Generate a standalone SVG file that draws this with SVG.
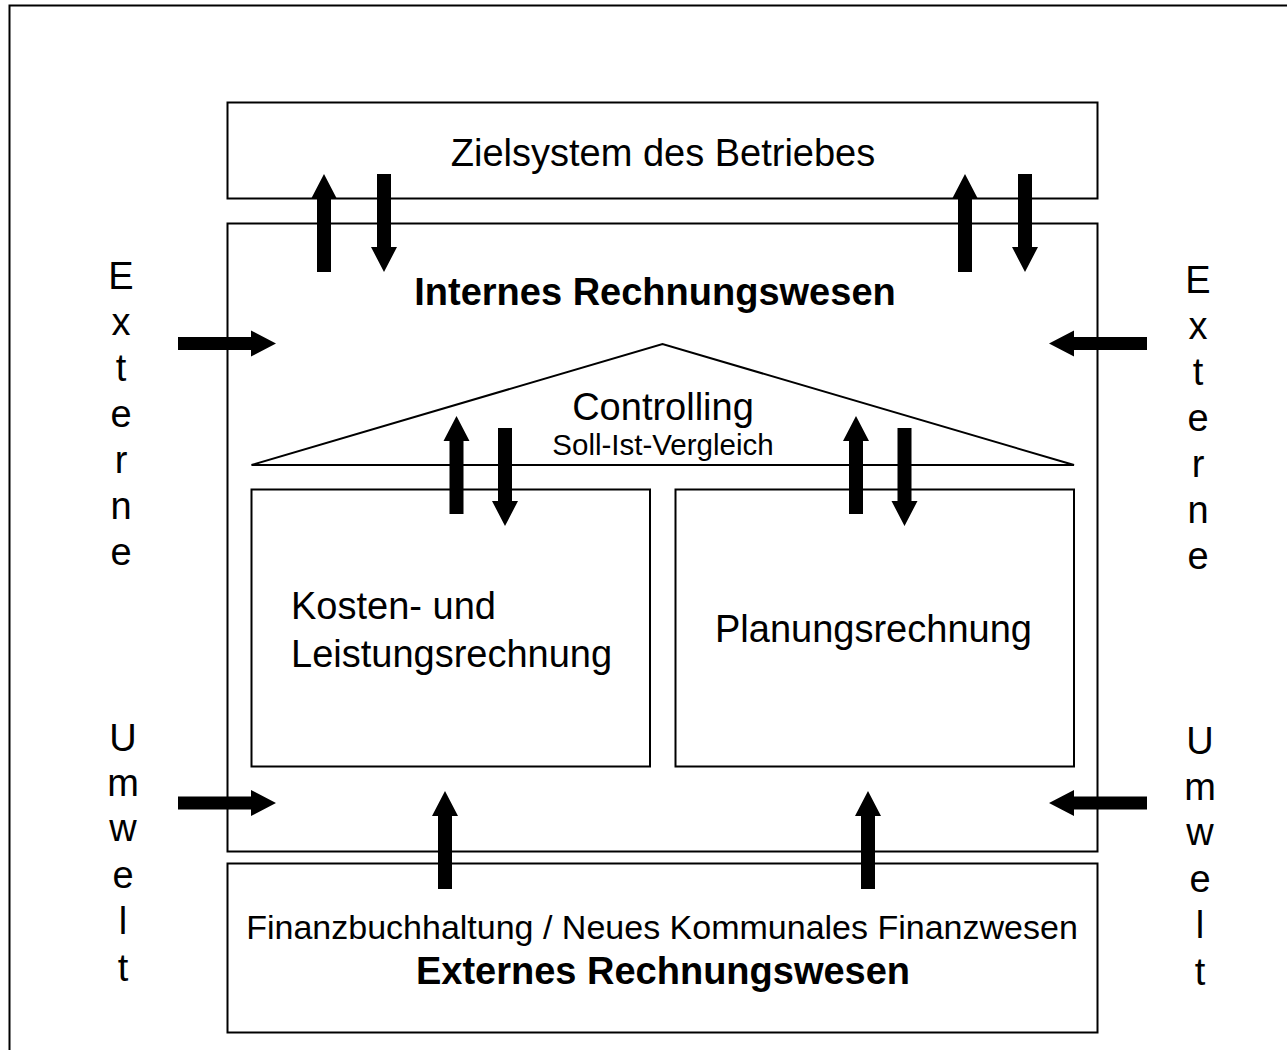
<svg xmlns="http://www.w3.org/2000/svg" width="1287" height="1050" viewBox="0 0 1287 1050">
<style>
.box{fill:none;stroke:#000;stroke-width:2}
.t{font-family:"Liberation Sans",Arial,sans-serif;fill:#000;font-size:38px}
.b{font-weight:bold}
.c{text-anchor:middle}
.arr{fill:#000;stroke:none}
</style>
<defs>
<polygon id="up" points="0,0 13,25 7,25 7,98 -7,98 -7,25 -13,25"/>
<polygon id="down" points="0,0 13,-25 7,-25 7,-98 -7,-98 -7,-25 -13,-25"/>
<polygon id="right" points="0,0 -25,-13 -25,-6.5 -98,-6.5 -98,6.5 -25,6.5 -25,13"/>
<polygon id="left" points="0,0 25,-13 25,-6.5 98,-6.5 98,6.5 25,6.5 25,13"/>
</defs>
<rect x="0" y="0" width="1287" height="1050" fill="#fff"/>
<rect class="box" x="9.5" y="5.5" width="1300" height="1060"/>

<g id="zielsystem">
<rect class="box" x="227.5" y="102.5" width="870" height="96"/>
<text class="t c" x="663" y="166">Zielsystem des Betriebes</text>
</g>

<g id="internes">
<rect class="box" x="227.5" y="223.5" width="870" height="628"/>
<text class="t b c" x="655" y="305">Internes Rechnungswesen</text>
</g>

<g id="controlling">
<polygon class="box" points="251.5,465 662.5,344 1074,465"/>
<text class="t c" x="663" y="420">Controlling</text>
<text class="t c" x="663" y="455" style="font-size:29.5px">Soll-Ist-Vergleich</text>
</g>

<g id="kosten">
<rect class="box" x="251.5" y="489.5" width="398.5" height="277"/>
<text class="t" x="291" y="619">Kosten- und</text>
<text class="t" x="291" y="667">Leistungsrechnung</text>
</g>

<g id="planung">
<rect class="box" x="675.5" y="489.5" width="398.5" height="277"/>
<text class="t" x="715" y="642">Planungsrechnung</text>
</g>

<g id="externes">
<rect class="box" x="227.5" y="863.5" width="870" height="169"/>
<text class="t c" x="662" y="939" style="font-size:34px">Finanzbuchhaltung / Neues Kommunales Finanzwesen</text>
<text class="t b c" x="663" y="984">Externes Rechnungswesen</text>
</g>

<g id="umwelt-links">
<text class="t c" x="121" y="289">E</text>
<text class="t c" x="121" y="335">x</text>
<text class="t c" x="121" y="381">t</text>
<text class="t c" x="121" y="427">e</text>
<text class="t c" x="121" y="473">r</text>
<text class="t c" x="121" y="519">n</text>
<text class="t c" x="121" y="565">e</text>
<text class="t c" x="123" y="751">U</text>
<text class="t c" x="123" y="796">m</text>
<text class="t c" x="123" y="841">w</text>
<text class="t c" x="123" y="888">e</text>
<text class="t c" x="123" y="934">l</text>
<text class="t c" x="123" y="981">t</text>
</g>

<g id="umwelt-rechts">
<text class="t c" x="1198" y="293">E</text>
<text class="t c" x="1198" y="339">x</text>
<text class="t c" x="1198" y="385">t</text>
<text class="t c" x="1198" y="431">e</text>
<text class="t c" x="1198" y="477">r</text>
<text class="t c" x="1198" y="523">n</text>
<text class="t c" x="1198" y="569">e</text>
<text class="t c" x="1200" y="754">U</text>
<text class="t c" x="1200" y="800">m</text>
<text class="t c" x="1200" y="845">w</text>
<text class="t c" x="1200" y="892">e</text>
<text class="t c" x="1200" y="938">l</text>
<text class="t c" x="1200" y="985">t</text>
</g>

<g id="connectors" class="arr">
<use href="#up" x="324" y="174"/>
<use href="#down" x="384" y="272"/>
<use href="#up" x="965" y="174"/>
<use href="#down" x="1025" y="272"/>
<use href="#up" x="456.5" y="416"/>
<use href="#down" x="505" y="526"/>
<use href="#up" x="856" y="416"/>
<use href="#down" x="904.5" y="526"/>
<use href="#up" x="445" y="791"/>
<use href="#up" x="868" y="791"/>
<use href="#right" x="276" y="343.5"/>
<use href="#right" x="276" y="803"/>
<use href="#left" x="1049" y="343.5"/>
<use href="#left" x="1049" y="803"/>
</g>
</svg>
